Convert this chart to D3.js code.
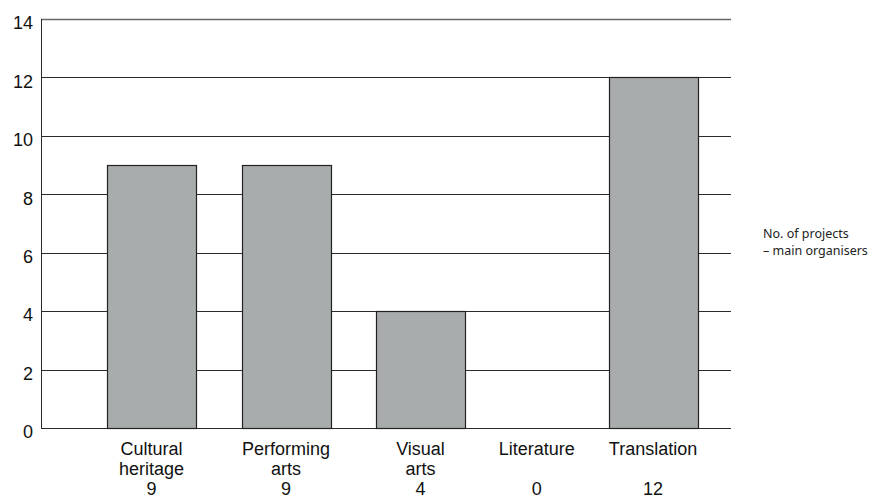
<!DOCTYPE html>
<html>
<head>
<meta charset="utf-8">
<script src="https://cdn.jsdelivr.net/npm/d3@7"></script>
<style>
  html, body { margin: 0; padding: 0; background: #fff; }
  svg { display: block; }
</style>
</head>
<body>
<svg id="chart" width="877" height="498"></svg>
<script>
const categories = [["Cultural", "heritage"], ["Performing", "arts"], ["Visual", "arts"], ["Literature"], ["Translation"]];
const values = [9, 9, 4, 0, 12];
const yTicks = [0, 2, 4, 6, 8, 10, 12, 14];
const legendLines = ["No. of projects", "\u2013 main organisers"];

(function () {
const svg = d3.select("#chart");
const mLeft = 41, mRight = 731, mTop = 19, mBottom = 428;
const barW = 89;

const y = d3.scaleLinear().domain([0, 14]).range([mBottom, mTop]);
// piecewise category position scale (index -> centre)
const x = d3.scaleLinear().domain([0, 2, 4]).range([151.5, 420.5, 653]);

const font = "'Liberation Sans', Arial, Helvetica, sans-serif";

// gridlines
svg.append("g").selectAll("line").data(yTicks).join("line")
  .attr("x1", mLeft).attr("x2", mRight)
  .attr("y1", d => Math.round(y(d)) + 0.5).attr("y2", d => Math.round(y(d)) + 0.5)
  .attr("stroke", d => d === 14 ? "#666" : "#2a2a2a")
  .attr("stroke-width", d => d === 14 ? 1.6 : 1);

// y axis line
svg.append("line")
  .attr("x1", mLeft + 0.5).attr("x2", mLeft + 0.5)
  .attr("y1", Math.round(y(14))).attr("y2", Math.round(y(0)) + 1)
  .attr("stroke", "#2a2a2a").attr("stroke-width", 1);

// y tick labels
svg.append("g").selectAll("text").data(yTicks).join("text")
  .attr("x", 33).attr("y", d => y(d) + 4)
  .attr("dy", "0.35em")
  .attr("text-anchor", "end")
  .attr("font-family", font).attr("font-size", 18).attr("fill", "#111")
  .text(d => d);

// bars
svg.append("g").selectAll("rect").data(values.map((v, i) => ({ v, i })).filter(d => d.v > 0)).join("rect")
  .attr("x", d => Math.round(x(d.i) - barW / 2) + 0.5)
  .attr("y", d => Math.round(y(d.v)) + 0.5)
  .attr("width", barW)
  .attr("height", d => Math.round(y(0)) - Math.round(y(d.v)))
  .attr("fill", "#a8acad")
  .attr("stroke", "#222").attr("stroke-width", 1.2);

// category labels
const labG = svg.append("g");
categories.forEach((lines, i) => {
  const t = labG.append("text")
    .attr("text-anchor", "middle")
    .attr("font-family", font).attr("font-size", 18).attr("fill", "#111");
  const rows = lines.length === 2 ? [lines[0], lines[1], String(values[i])] : [lines[0], "", String(values[i])];
  rows.forEach((s, k) => {
    if (s === "") return;
    t.append("tspan").attr("x", x(i)).attr("y", 455 + k * 19.8).text(s);
  });
});

// legend text
const lg = svg.append("text")
  .attr("font-family", "'Noto Sans', 'Open Sans', sans-serif")
  .attr("font-size", 12.5).attr("fill", "#222");
legendLines.forEach((s, k) => {
  lg.append("tspan").attr("x", 763).attr("y", 238 + k * 16.5).text(s);
});
})();
</script>
</body>
</html>
